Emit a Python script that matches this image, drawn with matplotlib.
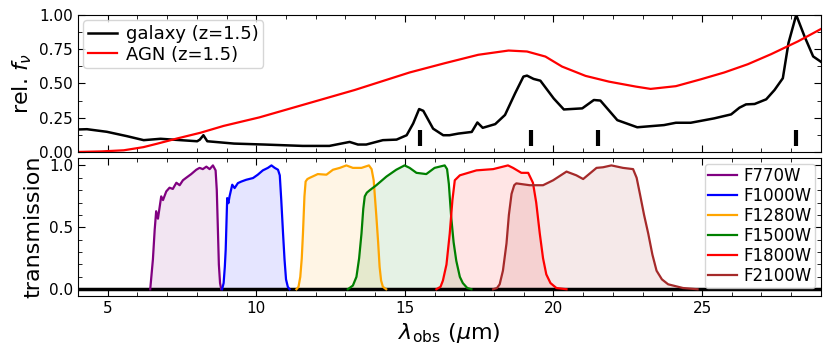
import numpy as np
import matplotlib.pyplot as plt
from matplotlib.ticker import MultipleLocator

# galaxy template (z=1.5)
gal_wave = [4.0, 4.3, 4.97, 5.65, 6.21, 6.78, 7.45, 8.01, 8.1, 8.22, 8.35, 9.25,
            10.27, 11.56, 12.46, 13.14, 13.42, 13.7, 14.26, 14.72, 15.06, 15.28,
            15.48, 15.62, 15.95, 16.29, 16.5, 16.8, 17.25, 17.44, 17.62, 18.04,
            18.37, 18.71, 18.99, 19.11, 19.33, 19.56, 20.01, 20.35, 20.97, 21.36,
            21.58, 22.15, 22.82, 23.72, 24.12, 24.62, 25.41, 25.98, 26.26, 26.48,
            26.77, 27.16, 27.44, 27.72, 27.91, 28.17, 28.45, 28.74, 29.07]
gal_flux = [0.164, 0.166, 0.147, 0.115, 0.086, 0.096, 0.086, 0.078, 0.09, 0.122,
            0.078, 0.061, 0.054, 0.044, 0.044, 0.073, 0.054, 0.054, 0.086, 0.09,
            0.122, 0.208, 0.313, 0.30, 0.17, 0.122, 0.122, 0.134, 0.146, 0.215,
            0.176, 0.203, 0.27, 0.428, 0.55, 0.557, 0.533, 0.52, 0.39, 0.31,
            0.318, 0.379, 0.375, 0.232, 0.18, 0.196, 0.213, 0.213, 0.245, 0.274,
            0.323, 0.347, 0.35, 0.384, 0.452, 0.538, 0.795, 1.0, 0.843, 0.697, 0.648]

# AGN template (z=1.5)
agn_wave = [4.0, 4.8, 5.54, 6.2, 6.66, 7.33, 8.12, 8.9, 10.1, 13.31, 15.16, 16.35,
            17.47, 18.49, 19.11, 19.73, 20.29, 21.08, 21.87, 22.77, 23.27, 24.12,
            24.96, 25.75, 26.54, 27.33, 28.23, 29.07]
agn_flux = [0.0, 0.004, 0.012, 0.035, 0.06, 0.098, 0.14, 0.19, 0.252, 0.452, 0.58,
            0.648, 0.709, 0.74, 0.733, 0.696, 0.623, 0.555, 0.513, 0.477, 0.46,
            0.48, 0.53, 0.58, 0.64, 0.714, 0.807, 0.905]

# PAH features (6.2, 7.7, 8.6, 11.3 um) shifted to z=1.5
pah_wave = [15.5, 19.25, 21.5, 28.15]

# MIRI filter curves
filters = ['F770W', 'F1000W', 'F1280W', 'F1500W', 'F1800W', 'F2100W']
filt_colors = ['purple', 'blue', 'orange', 'green', 'red', 'brown']
f770_wave = [6.43, 6.52, 6.58, 6.63, 6.69, 6.8, 6.86, 6.97, 7.08, 7.19, 7.31, 7.42,
             7.53, 7.64, 7.81, 7.98, 8.09, 8.2, 8.32, 8.43, 8.54, 8.63, 8.67, 8.71,
             8.74, 8.78, 8.82]
f770_tr = [0, 0.24, 0.48, 0.63, 0.57, 0.75, 0.72, 0.79, 0.82, 0.81, 0.86, 0.84,
           0.88, 0.9, 0.93, 0.965, 0.98, 0.97, 0.99, 0.97, 1.0, 0.96, 0.8, 0.46,
           0.2, 0.05, 0]
f1000_wave = [8.85, 8.9, 8.94, 8.97, 9.02, 9.06, 9.1, 9.19, 9.27, 9.38, 9.5, 9.66,
              9.89, 10.05, 10.22, 10.39, 10.51, 10.62, 10.73, 10.79, 10.84, 10.9,
              10.95, 11.0, 11.06, 11.12]
f1000_tr = [0, 0.05, 0.18, 0.32, 0.736, 0.695, 0.75, 0.844, 0.817, 0.857, 0.87,
            0.884, 0.898, 0.925, 0.96, 0.98, 1.0, 0.98, 0.965, 0.92, 0.72, 0.45,
            0.24, 0.08, 0.02, 0]
f1280_wave = [11.35, 11.42, 11.48, 11.53, 11.57, 11.62, 11.66, 11.72, 11.8, 12.07,
              12.36, 12.58, 12.81, 13.03, 13.25, 13.54, 13.79, 13.88, 13.95, 14.0,
              14.04, 14.1, 14.15, 14.2, 14.26, 14.37]
f1280_tr = [0, 0.02, 0.1, 0.25, 0.45, 0.75, 0.87, 0.89, 0.9, 0.93, 0.925, 0.965,
            0.98, 1.0, 0.98, 0.98, 1.0, 0.97, 0.88, 0.72, 0.59, 0.38, 0.18, 0.07,
            0.02, 0]
f1500_wave = [13.08, 13.25, 13.37, 13.46, 13.54, 13.6, 13.65, 13.72, 13.82, 14.04,
              14.38, 14.71, 14.99, 15.16, 15.39, 15.72, 16.0, 16.34, 16.42, 16.48,
              16.56, 16.64, 16.73, 16.85, 16.95, 17.1, 17.24]
f1500_tr = [0, 0.03, 0.1, 0.25, 0.45, 0.65, 0.75, 0.78, 0.8, 0.84, 0.91, 0.965,
            1.0, 0.98, 0.94, 0.93, 0.98, 1.0, 0.97, 0.85, 0.58, 0.38, 0.23, 0.1,
            0.05, 0.01, 0]
f1800_wave = [16.06, 16.2, 16.28, 16.4, 16.51, 16.6, 16.68, 16.85, 17.41, 17.97,
              18.47, 18.64, 18.92, 19.15, 19.31, 19.42, 19.54, 19.65, 19.76, 19.9,
              20.1, 20.44]
f1800_tr = [0, 0.02, 0.07, 0.2, 0.45, 0.72, 0.88, 0.92, 0.96, 0.97, 1.0, 0.98,
            0.94, 0.94, 0.86, 0.7, 0.45, 0.25, 0.12, 0.05, 0.01, 0]
f2100_wave = [17.97, 18.1, 18.19, 18.3, 18.42, 18.5, 18.59, 18.68, 18.75, 19.2,
              19.65, 19.99, 20.44, 20.77, 21.0, 21.45, 21.67, 21.95, 22.34, 22.68,
              22.8, 22.91, 23.05, 23.19, 23.33, 23.47, 23.65, 23.86, 24.36, 24.85]
f2100_tr = [0, 0.01, 0.04, 0.15, 0.37, 0.6, 0.77, 0.84, 0.855, 0.84, 0.84, 0.88,
            0.95, 0.92, 0.89, 0.98, 0.985, 1.0, 0.98, 0.97, 0.9, 0.77, 0.6, 0.45,
            0.28, 0.15, 0.08, 0.04, 0.01, 0]

filt_waves = [f770_wave, f1000_wave, f1280_wave, f1500_wave, f1800_wave, f2100_wave]
filt_trans = [f770_tr, f1000_tr, f1280_tr, f1500_tr, f1800_tr, f2100_tr]

fig = plt.figure(figsize=(8.3, 3.55), dpi=100)
ax1 = fig.add_axes([0.094, 0.572, 0.895, 0.386])
ax2 = fig.add_axes([0.094, 0.166, 0.895, 0.389], sharex=ax1)

# top: SED templates
ax1.plot(gal_wave, gal_flux, color='k', lw=1.8, label='galaxy (z=1.5)')
ax1.plot(agn_wave, agn_flux, color='red', lw=1.6, label='AGN (z=1.5)')
ax1.vlines(pah_wave, 0.04, 0.16, color='k', lw=3)
ax1.set_ylim(0, 1)
ax1.set_xlim(4, 29)
ax1.set_ylabel(r'rel. $f_\nu$', fontsize=16)
ax1.yaxis.set_major_locator(MultipleLocator(0.25))
ax1.yaxis.set_minor_locator(MultipleLocator(0.125))
ax1.legend(loc='upper left', fontsize=13, handlelength=1.6, labelspacing=0.15,
           borderpad=0.25, handletextpad=0.5, borderaxespad=0.3)
plt.setp(ax1.get_xticklabels(), visible=False)

# bottom: filter transmission
for name, c, w, t in zip(filters, filt_colors, filt_waves, filt_trans):
    ax2.plot(w, t, color=c, lw=1.6, label=name)
    ax2.fill_between(w, t, color=c, alpha=0.1, lw=0)
ax2.axhline(0, color='k', lw=2.5, zorder=1)
ax2.set_ylim(-0.055, 1.06)
ax2.set_ylabel('transmission', fontsize=16)
ax2.set_xlabel(r'$\lambda_{\rm obs}$ ($\mu$m)', fontsize=16)
ax2.yaxis.set_major_locator(MultipleLocator(0.5))
ax2.yaxis.set_minor_locator(MultipleLocator(0.1))
ax2.legend(loc='upper right', fontsize=12, handlelength=1.7, labelspacing=0.12,
           borderpad=0.2, handletextpad=0.4, borderaxespad=0.35)

for ax in (ax1, ax2):
    ax.xaxis.set_major_locator(MultipleLocator(5))
    ax.xaxis.set_minor_locator(MultipleLocator(1))
    ax.tick_params(which='both', direction='in', top=True, right=True, labelsize=11)
    ax.tick_params(which='major', length=5)
    ax.tick_params(which='minor', length=3)

fig.savefig('out.png', dpi=100)
